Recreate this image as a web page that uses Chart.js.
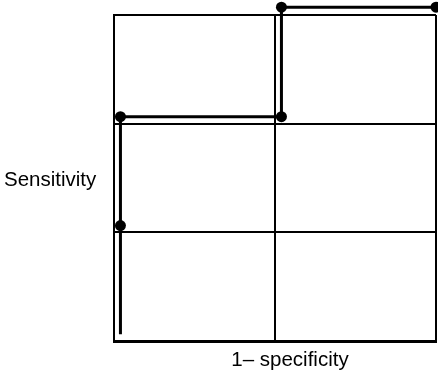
<!DOCTYPE html>
<html lang="en">
<head>
    <meta charset="UTF-8">
    <title>ROC step curve</title>
    <script src="https://cdn.jsdelivr.net/npm/chart.js"></script>
    <style>
        html, body { margin: 0; padding: 0; background: #fff; }
        .wrap { width: 438px; height: 377px; }
    </style>
</head>
<body>
    <div class="wrap">
        <canvas id="rocChart" width="438" height="377"></canvas>
    </div>

    <script>
        // Points of the step curve (1 - specificity, sensitivity)
        const fpr = [0.02, 0.02, 0.02, 0.52, 0.52, 1.0];
        const tpr = [0.021, 0.354, 0.688, 0.688, 1.024, 1.024];
        const dotRadius = [0, 5.5, 5.5, 5.5, 5.5, 5.5];

        // Grid positions (no tick labels shown)
        const xTicks = [0, 0.5, 1];
        const yTicks = [0, 1 / 3, 2 / 3, 1];

        const xTitle = "1\u2013 specificity";
        const yTitle = "Sensitivity";

        const points = fpr.map((x, i) => ({ x: x, y: tpr[i] }));

        // the top dots sit above the plot box, chart.js skips points outside
        // chartArea so widen it just while the datasets are drawn
        const overflowPlugin = {
            id: 'overflow',
            beforeDatasetsDraw(chart) {
                chart._savedArea = { top: chart.chartArea.top, right: chart.chartArea.right };
                chart.chartArea.top = 0;
                chart.chartArea.right = chart.width;
            },
            afterDatasetsDraw(chart) {
                chart.chartArea.top = chart._savedArea.top;
                chart.chartArea.right = chart._savedArea.right;
            }
        };

        // axis titles drawn horizontally, like the original
        const titlesPlugin = {
            id: 'titles',
            afterDraw(chart) {
                const ctx = chart.ctx;
                const area = chart.chartArea;
                ctx.save();
                ctx.fillStyle = '#000';
                ctx.font = '20.5px "Liberation Sans", Arial, sans-serif';
                ctx.textBaseline = 'alphabetic';
                ctx.textAlign = 'left';
                ctx.fillText(yTitle, 4, 186);
                ctx.textAlign = 'center';
                ctx.fillText(xTitle, 290, area.bottom + 25);
                ctx.restore();
            }
        };

        const gridOpts = {
            color: '#000',
            lineWidth: 2,
            drawTicks: false
        };

        const ctx = document.getElementById('rocChart').getContext('2d');
        new Chart(ctx, {
            type: 'line',
            data: {
                datasets: [{
                    data: points,
                    borderColor: '#000',
                    backgroundColor: '#000',
                    borderWidth: 3,
                    pointRadius: dotRadius,
                    pointBorderWidth: 0,
                    pointBackgroundColor: '#000',
                    tension: 0,
                    fill: false,
                    clip: false
                }]
            },
            options: {
                responsive: false,
                animation: false,
                layout: {
                    autoPadding: false,
                    padding: { left: 114, top: 15, right: 2, bottom: 36 }
                },
                plugins: {
                    legend: { display: false },
                    tooltip: { enabled: false }
                },
                scales: {
                    x: {
                        type: 'linear',
                        min: 0,
                        max: 1,
                        afterBuildTicks: axis => { axis.ticks = xTicks.map(v => ({ value: v })); },
                        ticks: { display: false },
                        grid: gridOpts,
                        border: { color: '#000', width: 3 }
                    },
                    y: {
                        type: 'linear',
                        min: 0,
                        max: 1,
                        afterBuildTicks: axis => { axis.ticks = yTicks.map(v => ({ value: v })); },
                        ticks: { display: false },
                        grid: gridOpts,
                        border: { color: '#000', width: 2 }
                    }
                }
            },
            plugins: [overflowPlugin, titlesPlugin]
        });
    </script>
</body>
</html>
